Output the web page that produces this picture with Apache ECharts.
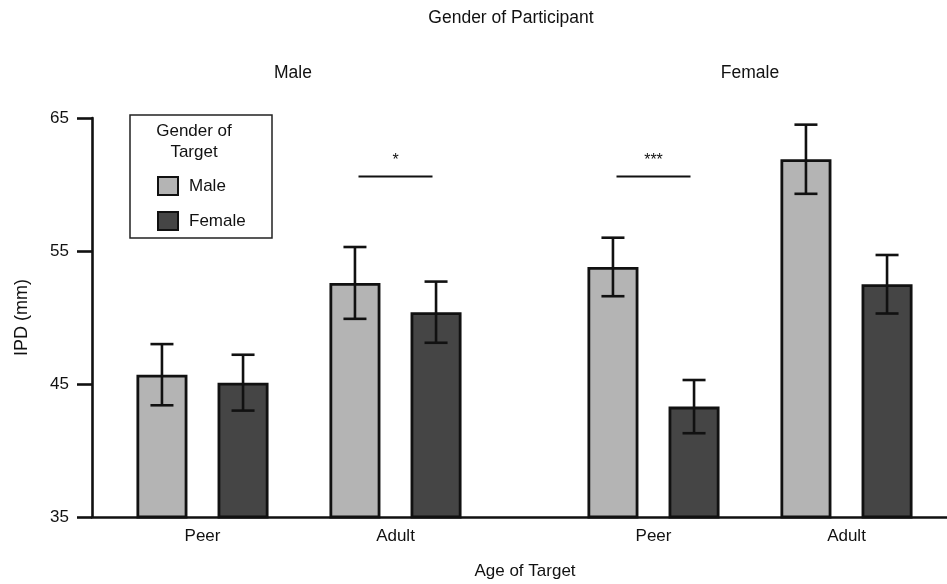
<!DOCTYPE html>
<html>
<head>
<meta charset="utf-8">
<title>IPD by Gender and Age of Target</title>
<script src="https://cdn.jsdelivr.net/npm/echarts@6/dist/echarts.min.js"></script>
<style>
  html, body { margin: 0; padding: 0; background: #fff; }
  #chart { width: 947px; height: 584px; }
</style>
</head>
<body>
<div id="chart"></div>
<script>
// Age-of-target categories and the two participant panels
const ageCategories = ['Peer', 'Adult'];
const participantPanels = ['Male', 'Female'];

// Mean IPD (mm) per target gender, male participants
const maleParticipantMaleTarget = [45.7, 52.6];
const maleParticipantFemaleTarget = [45.1, 50.4];
// Mean IPD (mm) per target gender, female participants
const femaleParticipantMaleTarget = [53.8, 61.9];
const femaleParticipantFemaleTarget = [43.3, 52.5];

// Error-bar half widths (mm)
const maleParticipantMaleErr = [2.3, 2.7];
const maleParticipantFemaleErr = [2.1, 2.3];
const femaleParticipantMaleErr = [2.2, 2.6];
const femaleParticipantFemaleErr = [2.0, 2.2];

// Y-axis range and ticks
const yMin = 35, yMax = 65, yStep = 10;

// Significance brackets: panel index, category, height (mm), marker
const sigBrackets = [
  { panel: 0, category: 'Adult', level: 60.6, stars: '*' },
  { panel: 1, category: 'Peer', level: 60.6, stars: '***' }
];

const FONT = "'Liberation Sans', Arial, Helvetica, sans-serif";
const INK = '#111';
const LIGHT = '#b4b4b4';
const DARK = '#454545';
const BAR_W = 51;
const BAR_GAP = 0.59;
const BAR_OFFSET = (BAR_W + BAR_W * BAR_GAP) / 2;

const chart = echarts.init(document.getElementById('chart'), null, { renderer: 'canvas' });

const panelSeries = [
  { male: maleParticipantMaleTarget, female: maleParticipantFemaleTarget,
    maleErr: maleParticipantMaleErr, femaleErr: maleParticipantFemaleErr },
  { male: femaleParticipantMaleTarget, female: femaleParticipantFemaleTarget,
    maleErr: femaleParticipantMaleErr, femaleErr: femaleParticipantFemaleErr }
];

function barSeries(name, values, color, axisIdx) {
  return {
    type: 'bar', name: name,
    xAxisIndex: axisIdx, yAxisIndex: axisIdx,
    barWidth: BAR_W, barGap: (BAR_GAP * 100) + '%',
    data: values,
    itemStyle: { color: color, borderColor: INK, borderWidth: 2.8 },
    emphasis: { disabled: true },
    silent: true, z: 2
  };
}

function errorSeries(values, errs, side, axisIdx) {
  return {
    type: 'custom', name: 'err' + axisIdx + side,
    xAxisIndex: axisIdx, yAxisIndex: axisIdx,
    data: values.map((v, i) => [i, v, errs[i]]),
    encode: { x: 0, y: 1 },
    silent: true, z: 5,
    renderItem: function (params, api) {
      const i = api.value(0), v = api.value(1), e = api.value(2);
      const top = api.coord([i, v + e]);
      const bot = api.coord([i, v - e]);
      const x = top[0] + side * BAR_OFFSET;
      const cap = 11.5;
      const style = { stroke: INK, lineWidth: 2.6 };
      return {
        type: 'group',
        children: [
          { type: 'line', shape: { x1: x, y1: top[1], x2: x, y2: bot[1] }, style: style },
          { type: 'line', shape: { x1: x - cap, y1: top[1], x2: x + cap, y2: top[1] }, style: style },
          { type: 'line', shape: { x1: x - cap, y1: bot[1], x2: x + cap, y2: bot[1] }, style: style }
        ]
      };
    }
  };
}

function bracketSeries(panelIdx, axisIdx) {
  const items = sigBrackets.filter(b => b.panel === panelIdx);
  return {
    type: 'custom', name: 'sig' + axisIdx,
    xAxisIndex: axisIdx, yAxisIndex: axisIdx,
    data: items.map(b => [ageCategories.indexOf(b.category), b.level]),
    encode: { x: 0, y: 1 },
    silent: true, z: 5,
    renderItem: function (params, api) {
      const p = api.coord([api.value(0), api.value(1)]);
      const half = 37;
      return {
        type: 'group',
        children: [
          { type: 'line', shape: { x1: p[0] - half, y1: p[1], x2: p[0] + half, y2: p[1] },
            style: { stroke: INK, lineWidth: 1.8 } },
          { type: 'text', x: p[0], y: p[1] - 16,
            style: { text: items[params.dataIndex].stars, fill: INK,
              font: '16px ' + FONT, align: 'center', verticalAlign: 'middle' } }
        ]
      };
    }
  };
}

const series = [];
panelSeries.forEach((ps, k) => {
  const ax = k + 1;
  series.push(barSeries('Male', ps.male, LIGHT, ax));
  series.push(barSeries('Female', ps.female, DARK, ax));
  series.push(errorSeries(ps.male, ps.maleErr, -1, ax));
  series.push(errorSeries(ps.female, ps.femaleErr, 1, ax));
  series.push(bracketSeries(k, ax));
});

const hiddenAxis = { show: false };
const catLabel = { color: INK, fontSize: 17, fontFamily: FONT, margin: 11 };

const option = {
  backgroundColor: '#fff',
  animation: false,
  textStyle: { fontFamily: FONT },
  grid: [
    { left: 92, right: 0, top: 118, bottom: 67 },
    { left: 106, width: 386, top: 118, bottom: 67 },
    { left: 557, width: 386, top: 118, bottom: 67 }
  ],
  xAxis: [
    { type: 'value', gridIndex: 0, min: 0, max: 1,
      axisLine: { show: true, lineStyle: { color: INK, width: 2.6 } },
      axisTick: { show: false }, axisLabel: { show: false }, splitLine: { show: false } },
    { type: 'category', gridIndex: 1, data: ageCategories,
      axisLine: { show: false }, axisTick: { show: false }, axisLabel: catLabel },
    { type: 'category', gridIndex: 2, data: ageCategories,
      axisLine: { show: false }, axisTick: { show: false }, axisLabel: catLabel }
  ],
  yAxis: [
    { type: 'value', gridIndex: 0, min: yMin, max: yMax, interval: yStep,
      name: 'IPD (mm)', nameLocation: 'middle', nameGap: 61,
      nameTextStyle: { color: INK, fontSize: 18, fontFamily: FONT },
      axisLine: { show: true, lineStyle: { color: INK, width: 2.6 } },
      axisTick: { show: true, length: 15, lineStyle: { color: INK, width: 2.6 } },
      axisLabel: { color: INK, fontSize: 17, fontFamily: FONT, margin: 23 },
      splitLine: { show: false } },
    Object.assign({ type: 'value', gridIndex: 1, min: yMin, max: yMax, interval: yStep }, hiddenAxis),
    Object.assign({ type: 'value', gridIndex: 2, min: yMin, max: yMax, interval: yStep }, hiddenAxis)
  ],
  legend: {
    data: ['Male', 'Female'],
    orient: 'vertical',
    left: 157, top: 176,
    padding: 0,
    itemWidth: 20, itemHeight: 18, itemGap: 15,
    icon: 'rect',
    itemStyle: { borderColor: INK, borderWidth: 2 },
    textStyle: { color: INK, fontSize: 17, fontFamily: FONT, lineHeight: 18, padding: [0, 0, 0, 6] },
    selectedMode: false
  },
  graphic: [
    { type: 'rect', shape: { x: 130, y: 115, width: 142, height: 123 },
      style: { fill: 'none', stroke: '#222', lineWidth: 1.5 }, silent: true },
    { type: 'text', x: 194, y: 142,
      style: { text: 'Gender of\nTarget', fill: INK, font: '17px ' + FONT,
        align: 'center', verticalAlign: 'middle', lineHeight: 21 }, silent: true },
    { type: 'text', x: 511, y: 18,
      style: { text: 'Gender of Participant', fill: INK, font: '17.5px ' + FONT,
        align: 'center', verticalAlign: 'middle' }, silent: true },
    { type: 'text', x: 293, y: 73,
      style: { text: participantPanels[0], fill: INK, font: '17.5px ' + FONT,
        align: 'center', verticalAlign: 'middle' }, silent: true },
    { type: 'text', x: 750, y: 73,
      style: { text: participantPanels[1], fill: INK, font: '17.5px ' + FONT,
        align: 'center', verticalAlign: 'middle' }, silent: true },
    { type: 'text', x: 525, y: 571,
      style: { text: 'Age of Target', fill: INK, font: '17px ' + FONT,
        align: 'center', verticalAlign: 'middle' }, silent: true }
  ],
  series: series
};

chart.setOption(option);
</script>
</body>
</html>
